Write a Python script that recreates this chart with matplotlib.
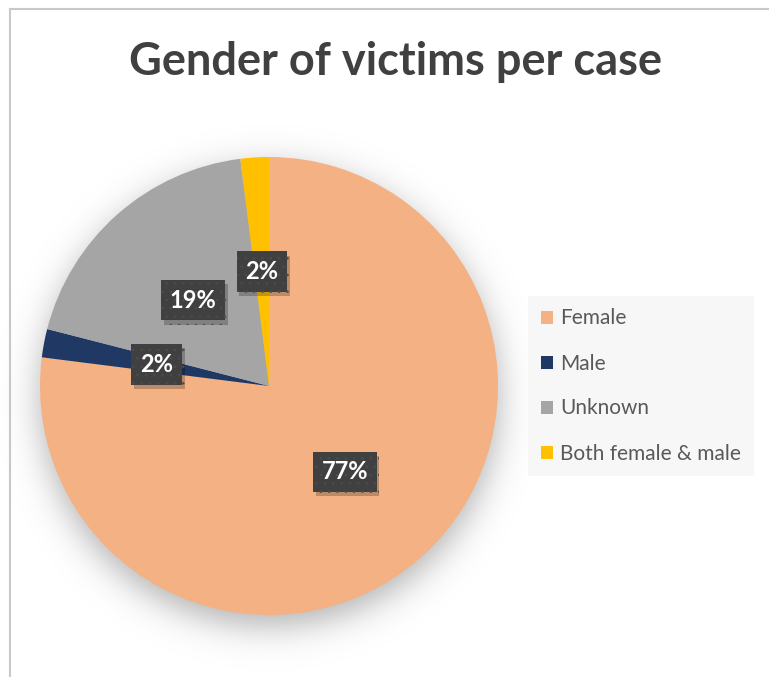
import matplotlib
matplotlib.use("Agg")
import numpy as np
import matplotlib.pyplot as plt
import matplotlib.patheffects as pe
from matplotlib.lines import Line2D

plt.rcParams["hatch.linewidth"] = 0.6

# ---- data ----
title = "Gender of victims per case"
categories = ["Female", "Male", "Unknown", "Both female & male"]
values = [77, 2, 19, 2]
colors = ["#F4B183", "#203864", "#A5A5A5", "#FFC000"]

W, H = 769, 677
fig = plt.figure(figsize=(W / 100, H / 100), dpi=100)
fig.patch.set_facecolor("white")

# chart border (top and left visible)
fig.add_artist(Line2D([10 / W, 10 / W], [0, 1 - 9 / H], transform=fig.transFigure,
                      color="#c8c8c8", lw=1.5))
fig.add_artist(Line2D([10 / W, 1], [1 - 9 / H, 1 - 9 / H], transform=fig.transFigure,
                      color="#c8c8c8", lw=1.5))

# title
fig.text(395 / W, 1 - 75 / H, title, ha="center", va="baseline",
         fontsize=32.5, fontweight="bold", color="#404040", family=["Lato", "DejaVu Sans"])

# pie axes
cx, cy, R = 269, 386, 229
half = 240
ax = fig.add_axes([(cx - half) / W, (H - cy - half) / H, 2 * half / W, 2 * half / H])
ax.set_facecolor("none")

# soft blurred shadow behind pie
ext = 1.35
g = np.linspace(-ext, ext, 600)
X, Y = np.meshgrid(g, g)
D = np.hypot(X, Y + 0.05)
A = 0.3 / (1 + np.exp((D - 1.0) / 0.045))
rgba = np.zeros(X.shape + (4,))
rgba[..., 3] = A
ax.imshow(rgba, extent=(-ext, ext, -ext, ext), origin="lower", zorder=0,
          clip_on=False, interpolation="bilinear")

wedges, texts, autotexts = ax.pie(
    values, colors=colors, startangle=90, counterclock=False, radius=1,
    autopct="%d%%", pctdistance=0.5,
    wedgeprops=dict(linewidth=0, zorder=2),
    textprops=dict(color="white", fontsize=17, fontweight="bold",
                   family=["Lato", "DejaVu Sans"]),
)
ax.set_xlim(-half / R, half / R)
ax.set_ylim(-half / R, half / R)
ax.set_aspect("equal")
ax.axis("off")

for t in autotexts:
    t.set_zorder(5)
    t.set_bbox(dict(boxstyle="square,pad=0.37", facecolor="#404040",
                    edgecolor="#4c4c4c", linewidth=0, hatch=".."))
    t.get_bbox_patch().set_path_effects(
        [pe.SimplePatchShadow(offset=(2, -3), alpha=0.22, shadow_rgbFace="black"), pe.Normal()])

# legend
leg = fig.legend(wedges, categories, loc="center left",
                 bbox_to_anchor=(528 / W, 1 - 386 / H),
                 frameon=True, fancybox=False, facecolor="#f7f7f7", edgecolor="none",
                 framealpha=1, labelspacing=1.2,
                 handlelength=0.6, handleheight=0.6, handletextpad=0.35,
                 borderpad=0.6, borderaxespad=0,
                 prop=dict(family=["Lato", "DejaVu Sans"], size=15))
for txt in leg.get_texts():
    txt.set_color("#595959")

fig.savefig("out.png", dpi=100, facecolor="white")
